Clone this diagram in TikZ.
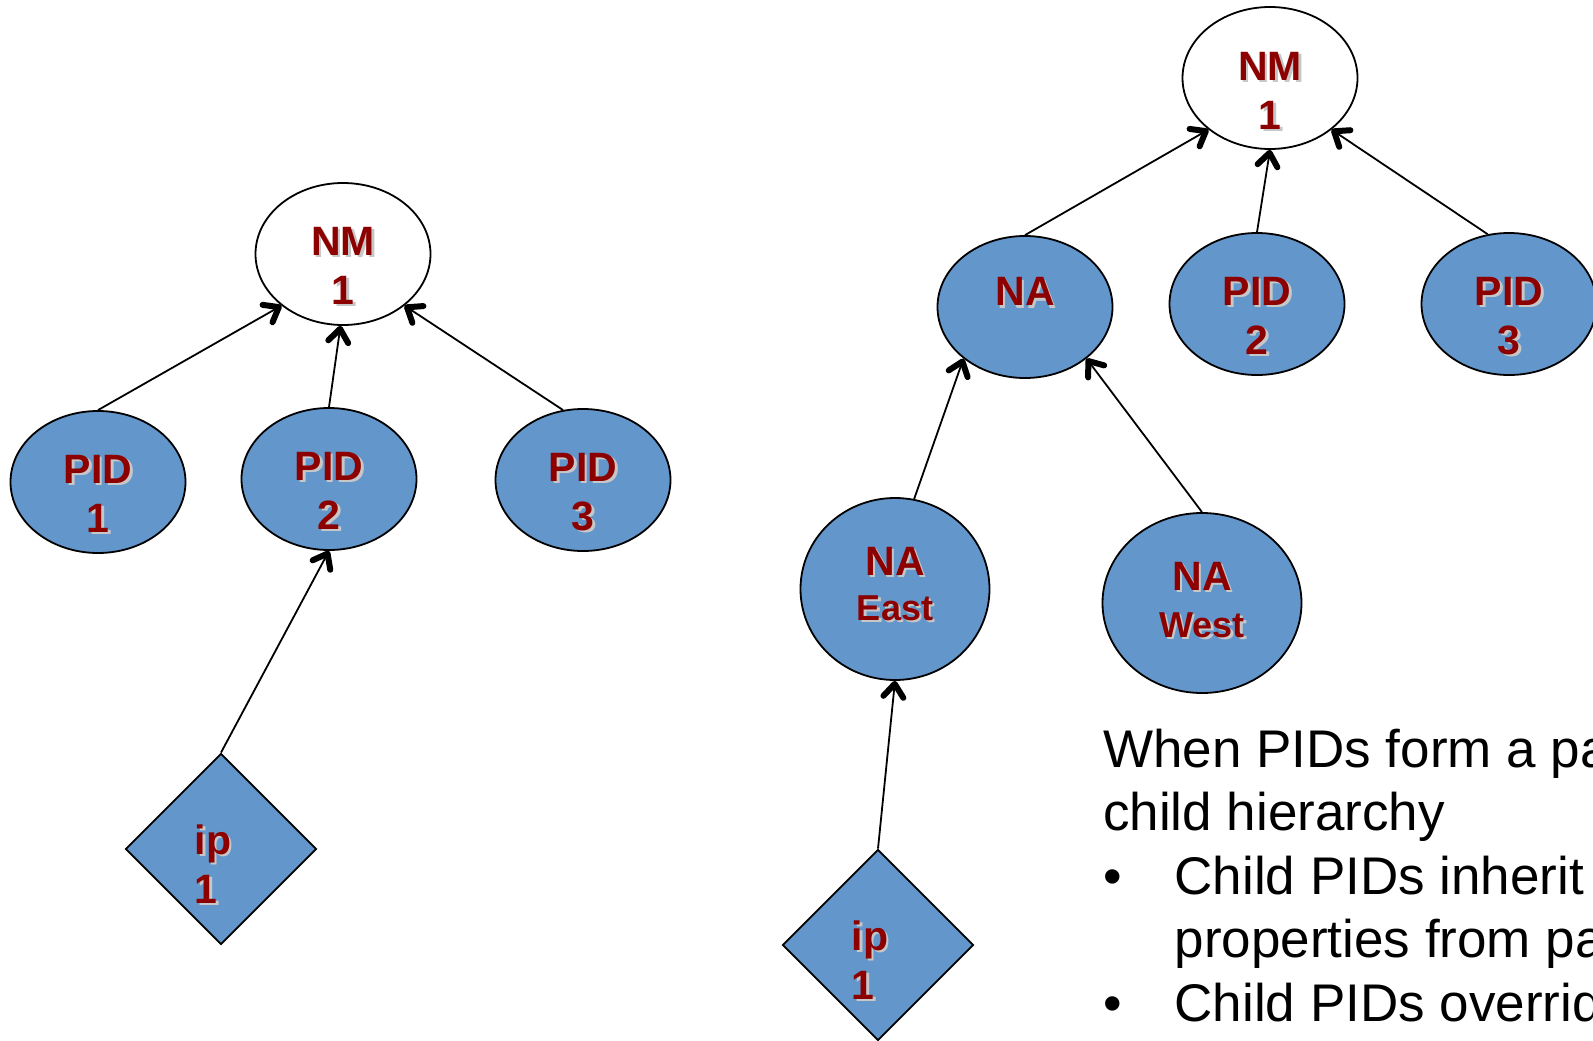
\documentclass[tikz,border=0pt]{standalone}
\usepackage{fontspec}
\setmainfont{Liberation Sans}
\usetikzlibrary{shapes.geometric,arrows.meta}
\definecolor{nodeblue}{RGB}{99,150,203}
\definecolor{lblred}{RGB}{140,0,0}
\newcommand\shd[1]{\makebox[0pt][l]{\hspace{2.5pt}\raisebox{-2.5pt}{\color{black!22}#1}}#1}
\tikzset{
  pidnode/.style={ellipse,draw,line width=1.8pt,fill=nodeblue,minimum width=175pt,minimum height=142pt,inner sep=0pt},
  nmnode/.style={pidnode,fill=white},
  ipnode/.style={diamond,draw,line width=1.8pt,fill=nodeblue,minimum size=191pt,inner sep=0pt},
  lbl/.style={font=\bfseries\fontsize{41}{49}\selectfont,text=lblred,align=center,inner sep=0pt},
  link/.style={line width=1.8pt,-{Straight Barb[length=13pt,width=20pt,line width=6pt,round]}},
}
\begin{document}
\begin{tikzpicture}[x=1pt,y=-1pt]
\path[use as bounding box,clip] (0,0) rectangle (1593,1041);
\fill[white] (0,0) rectangle (1593,1041);
% left tree
\node[nmnode,label={[lbl,yshift=-13pt]center:{\shd{NM}\\\shd{1}}}] (nmA) at (343,254) {};
\node[pidnode,label={[lbl,yshift=-13pt]center:{\shd{PID}\\\shd{1}}}] (pidA1) at (98,482) {};
\node[pidnode,label={[lbl,yshift=-13pt]center:{\shd{PID}\\\shd{2}}}] (pidA2) at (329,479) {};
\node[pidnode,label={[lbl,yshift=-13pt]center:{\shd{PID}\\\shd{3}}}] (pidA3) at (583,480) {};
\node[ipnode,label={[lbl,align=left,xshift=-8pt,yshift=-16pt]center:{\shd{ip}\\\shd{1}}}] (ipA) at (221,849) {};
\draw[link] (pidA1.north) -- (nmA.220);
\draw[link] (pidA2.north) -- (nmA.268);
\draw[link] (pidA3.106) -- (nmA.320);
\draw[link] (ipA.north) -- (pidA2.south);
% right tree
\node[nmnode,label={[lbl,yshift=-14pt]center:{\shd{NM}\\\shd{1}}}] (nmB) at (1270,78) {};
\node[pidnode,label={[lbl,yshift=14pt]center:{\shd{NA}}}] (naB) at (1025,307) {};
\node[pidnode,label={[lbl,yshift=-13pt]center:{\shd{PID}\\\shd{2}}}] (pidB2) at (1257,304) {};
\node[pidnode,label={[lbl,yshift=-13pt]center:{\shd{PID}\\\shd{3}}}] (pidB3) at (1509,304) {};
\node[pidnode,minimum width=189pt,minimum height=182pt,
  label={[lbl,font=\bfseries\fontsize{41}{45}\selectfont,yshift=4pt]center:{\shd{NA}\\{\fontsize{36}{45}\selectfont\shd{East}}}}] (eastB) at (895,589) {};
\node[pidnode,minimum width=199pt,minimum height=180pt,
  label={[lbl,font=\bfseries\fontsize{41}{47}\selectfont,yshift=2pt]center:{\shd{NA}\\{\fontsize{36}{47}\selectfont\shd{West}}}}] (westB) at (1202,603) {};
\node[ipnode,label={[lbl,align=left,xshift=-8pt,yshift=-16pt]center:{\shd{ip}\\\shd{1}}}] (ipB) at (878,945) {};
\draw[link] (naB.north) -- (nmB.220);
\draw[link] (pidB2.north) -- (nmB.south);
\draw[link] (pidB3.107) -- (nmB.320);
\draw[link] (eastB.78) -- (naB.220);
\draw[link] (westB.north) -- (naB.320);
\draw[link] (ipB.north) -- (eastB.south);
% note
\node[anchor=base west,align=left,inner sep=0pt,font=\fontsize{53}{63.5}\selectfont] (note) at (1103,1021)
  {When PIDs form a parent-\\child hierarchy\\\makebox[71.5pt][l]{\textbullet}Child PIDs inherit\\\hspace*{71.5pt}properties from parent\\\makebox[71.5pt][l]{\textbullet}Child PIDs override};
\end{tikzpicture}
\end{document}
